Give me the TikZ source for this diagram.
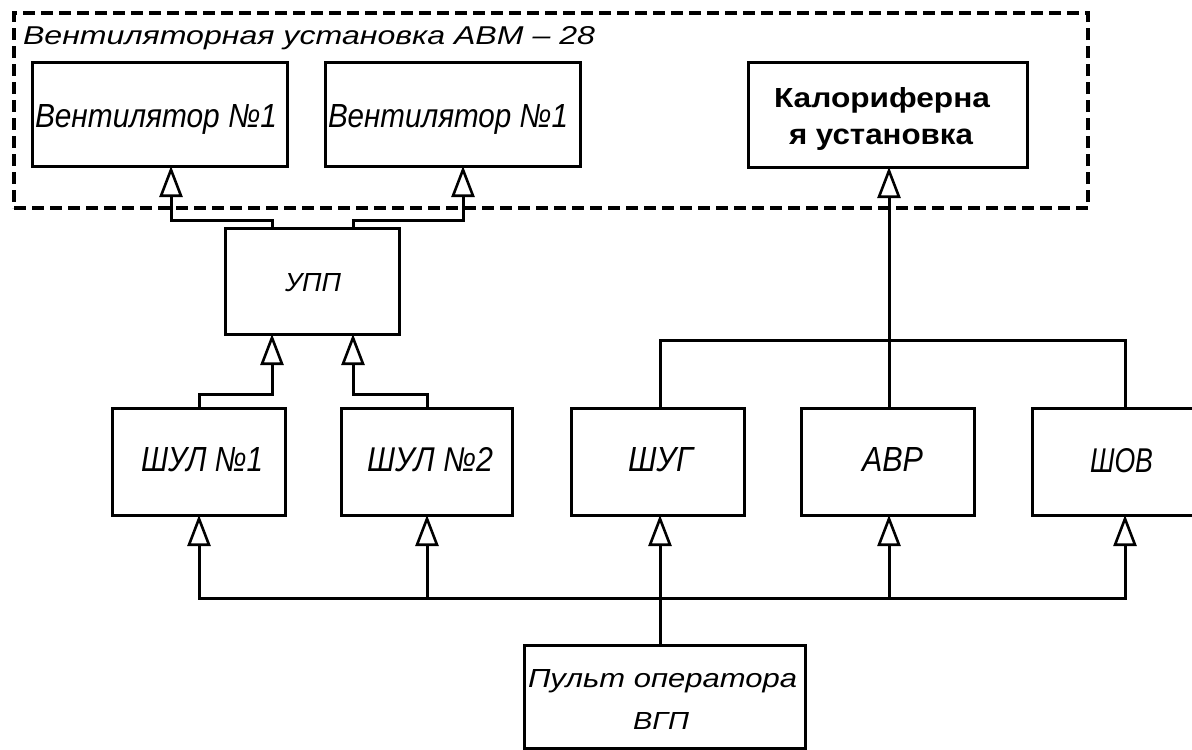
\documentclass[tikz,border=0pt]{standalone}
\usepackage{fontspec}
\setmainfont{Liberation Sans}
\usepackage{graphicx}
\usetikzlibrary{arrows.meta}
\newcommand\gfit[3]{\resizebox{#1pt}{#2pt}{\itshape #3}}
\begin{document}
\begin{tikzpicture}[x=1pt,y=-1pt,
  box/.style={draw, line width=3pt, rectangle, inner sep=0pt, outer sep=0pt},
  frame/.style={draw, line width=3.3pt, dash pattern=on 12pt off 6pt, rectangle, inner sep=0pt, outer sep=0pt},
  wire/.style={line width=3pt, line cap=rect},
  arr/.style={line width=3pt, -{Triangle[open, length=31pt, width=23pt, line width=2.6pt]}},
  lbl/.style={inner sep=0pt, outer sep=0pt, anchor=base west},
]
\useasboundingbox (0,0) rectangle (1192,750);
\clip (0,0) rectangle (1192,750);
\fill[white] (0,0) rectangle (1192,750);

% frame
\node[frame, minimum width=1074pt, minimum height=195pt] (frm) at (551,110.5) {};
% boxes
\node[box, minimum width=255pt, minimum height=104pt] (vent1) at (159.5,114) {};
\node[box, minimum width=255pt, minimum height=104pt] (vent2) at (452.5,114) {};
\node[box, minimum width=279pt, minimum height=105pt] (kalor) at (887.5,114.5) {};
\node[box, minimum width=174pt, minimum height=106pt] (upp) at (312,281) {};
\node[box, minimum width=173pt, minimum height=107pt] (shul1) at (198.5,461.5) {};
\node[box, minimum width=171pt, minimum height=107pt] (shul2) at (426.5,461.5) {};
\node[box, minimum width=173pt, minimum height=107pt] (shug) at (657.5,461.5) {};
\node[box, minimum width=173pt, minimum height=107pt] (avr) at (887.5,461.5) {};
\node[box, minimum width=173pt, minimum height=107pt] (shov) at (1118.5,461.5) {};
\node[box, minimum width=281pt, minimum height=103pt] (pult) at (664.5,696.5) {};

% texts
\node[lbl] (t0) at (23,44.5) {\gfit{572}{18}{Вентиляторная установка АВМ – 28}};
\node[lbl] (t1) at (35,127) {\gfit{242}{23}{Вентилятор №1}};
\node[lbl] (t2) at (328,127) {\gfit{240}{23}{Вентилятор №1}};
\node[lbl] (k1) at (774,107) {\resizebox{216pt}{20pt}{\bfseries Калориферна}};
\node[lbl] (k2) at (789,144) {\resizebox{184pt}{15.5pt}{\bfseries я установка}};
\node[lbl] (t3) at (285,291) {\gfit{56}{18}{УПП}};
\node[lbl] (t4) at (141,471) {\gfit{122}{24}{ШУЛ №1}};
\node[lbl] (t5) at (367,471) {\gfit{126}{24}{ШУЛ №2}};
\node[lbl] (t6) at (628,471) {\gfit{65}{24}{ШУГ}};
\node[lbl] (t7) at (862,471) {\gfit{61}{24}{АВР}};
\node[lbl] (t8) at (1090,472) {\gfit{63}{24}{ШОВ}};
\node[lbl] (t9) at (528,687) {\gfit{269}{18}{Пульт оператора}};
\node[lbl] (t10) at (633,729) {\gfit{56}{17}{ВГП}};

% helper coordinates
\coordinate (xv1) at (171,0);
\coordinate (xv2) at (463,0);
\coordinate (xua) at (272,0);
\coordinate (xub) at (353,0);
\coordinate (xs1) at (199,0);
\coordinate (xs2) at (427,0);
\coordinate (xg) at (660,0);
\coordinate (xa) at (889,0);
\coordinate (xo) at (1125,0);
\coordinate (ytop) at (0,220);
\coordinate (ys) at (0,394);
\coordinate (ybus) at (0,340);
\coordinate (ybot) at (0,598);

% connectors top
\draw[arr] (xua |- upp.north) |- (xv1 |- ytop) -- (xv1 |- vent1.south);
\draw[arr] (xub |- upp.north) |- (xv2 |- ytop) -- (xv2 |- vent2.south);
\draw[arr] (xs1 |- shul1.north) |- (xua |- ys) -- (xua |- upp.south);
\draw[arr] (xs2 |- shul2.north) |- (xub |- ys) -- (xub |- upp.south);
\draw[wire] (xg |- shug.north) |- (xo |- ybus) -- (xo |- shov.north);
\draw[arr] (xa |- avr.north) -- (xa |- kalor.south);

% bottom bus
\draw[wire] (xs2 |- ybot) -- (xa |- ybot);
\draw[arr] (xs2 |- ybot) -| (xs1 |- shul1.south);
\draw[arr] (xs2 |- ybot) -- (xs2 |- shul2.south);
\draw[arr] (xa |- ybot) -| (xo |- shov.south);
\draw[arr] (xa |- ybot) -- (xa |- avr.south);
\draw[arr] (xg |- pult.north) -- (xg |- shug.south);
\end{tikzpicture}
\end{document}
